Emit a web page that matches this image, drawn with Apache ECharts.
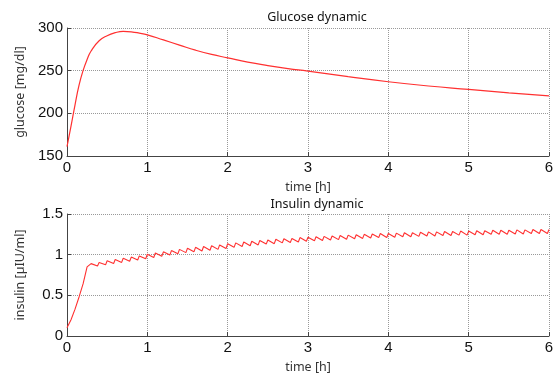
<!DOCTYPE html>
<html>
<head>
<meta charset="utf-8">
<script src="https://cdn.jsdelivr.net/npm/echarts@6/dist/echarts.min.js"></script>
<style>
  html, body { margin: 0; padding: 0; background: #fff; }
  #chart { width: 557px; height: 375px; }
</style>
</head>
<body>
<div id="chart"></div>
<script>
// glucose curve
const glucoseTime = [0, 0.05, 0.1, 0.15, 0.2, 0.25, 0.3, 0.4, 0.5, 0.6, 0.7, 0.8, 0.9, 1.0, 1.2, 1.4, 1.6, 1.8, 2.0, 2.25, 2.5, 2.75, 3.0, 3.5, 4.0, 4.5, 5.0, 5.5, 6.0];
const glucoseValue = [161, 185, 210, 233, 250, 263, 273, 285, 291, 294.5, 296, 295.5, 294, 292, 286, 280, 274, 269, 265, 260, 256, 252.5, 249.5, 243, 237, 232, 228, 224, 220.5];

// insulin: initial rise, then a sawtooth (one tooth every 0.1 h)
const insulinRiseTime = [0, 0.05, 0.1, 0.15, 0.2, 0.25];
const insulinRiseValue = [0.1, 0.2, 0.33, 0.48, 0.64, 0.85];
const toothStart = 0.3;
const toothPeriod = 0.1;
const toothRise = 0.02;
const insulinPeaks = [
  0.89, 0.905, 0.925, 0.94, 0.955, 0.97, 0.985, 1.005, 1.02, 1.035,
  1.05, 1.065, 1.08, 1.09, 1.10, 1.11, 1.12, 1.135, 1.145, 1.155,
  1.165, 1.175, 1.18, 1.19, 1.195, 1.20, 1.21, 1.215, 1.22, 1.225,
  1.23, 1.235, 1.24, 1.245, 1.25, 1.255, 1.26, 1.26, 1.265, 1.27,
  1.27, 1.275, 1.28, 1.28, 1.285, 1.285, 1.29, 1.29, 1.295, 1.295,
  1.30, 1.30, 1.30, 1.305, 1.305, 1.31, 1.31, 1.31
];
// minimum reached just before each peak (from the 2nd tooth on)
const insulinTroughs = [
  0.86, 0.875, 0.89, 0.905, 0.92, 0.935, 0.95, 0.965, 0.98, 0.995,
  1.01, 1.025, 1.035, 1.045, 1.055, 1.065, 1.075, 1.09, 1.10, 1.11,
  1.12, 1.13, 1.135, 1.145, 1.15, 1.155, 1.165, 1.17, 1.175, 1.18,
  1.185, 1.19, 1.195, 1.20, 1.205, 1.21, 1.21, 1.215, 1.22, 1.22,
  1.225, 1.23, 1.23, 1.235, 1.235, 1.24, 1.24, 1.245, 1.245, 1.25,
  1.25, 1.25, 1.255, 1.255, 1.26, 1.26, 1.26
];

const glucoseData = glucoseTime.map((t, i) => [t, glucoseValue[i]]);

const insulinData = insulinRiseTime.map((t, i) => [t, insulinRiseValue[i]]);
insulinPeaks.forEach((p, k) => {
  const tp = +(toothStart + k * toothPeriod).toFixed(3);
  if (k > 0) insulinData.push([tp - toothRise, insulinTroughs[k - 1]]);
  insulinData.push([tp, p]);
});

const chart = echarts.init(document.getElementById('chart'), null, { renderer: 'canvas' });

const tickFont = { fontFamily: 'Liberation Sans', fontSize: 15, color: '#111' };
const nameFont = { fontFamily: 'Noto Sans', fontSize: 12.5, color: '#333' };
const gridLine = { show: true, lineStyle: { color: '#999', type: 'dotted', width: 1 } };
const lineColor = '#ff3030';

const xAxisBase = (gridIndex) => ({
  type: 'value',
  gridIndex,
  min: 0,
  max: 6,
  interval: 1,
  name: 'time [h]',
  nameLocation: 'middle',
  nameGap: 25,
  nameTextStyle: nameFont,
  axisLine: { lineStyle: { color: '#444', width: 1 } },
  axisTick: { inside: true, length: 4, lineStyle: { color: '#444' } },
  axisLabel: Object.assign({ margin: 4 }, tickFont),
  splitLine: gridLine,
});

const yAxisBase = (gridIndex, min, max, interval, name) => ({
  type: 'value',
  gridIndex,
  min,
  max,
  interval,
  name,
  nameLocation: 'middle',
  nameGap: 40,
  nameTextStyle: nameFont,
  axisLine: { show: true, lineStyle: { color: '#444' } },
  axisTick: { show: true, inside: true, length: 4, lineStyle: { color: '#444' } },
  axisLabel: Object.assign({ margin: 4 }, tickFont),
  splitLine: gridLine,
});

const titleStyle = { fontFamily: 'Noto Sans', fontSize: 12.5, fontWeight: 'normal', color: '#111' };

const option = {
  animation: false,
  backgroundColor: '#fff',
  title: [
    { text: 'Glucose dynamic', left: 312, top: 6, textAlign: 'center', textStyle: titleStyle },
    { text: 'Insulin dynamic', left: 312, top: 193, textAlign: 'center', textStyle: titleStyle },
  ],
  grid: [
    { left: 67, right: 8, top: 28, height: 128 },
    { left: 67, right: 8, top: 214, height: 129 },
  ],
  xAxis: [xAxisBase(0), xAxisBase(1)],
  yAxis: [
    yAxisBase(0, 150, 300, 50, 'glucose [mg/dl]'),
    yAxisBase(1, 0, 1.5, 0.5, 'insulin [µIU/ml]'),
  ],
  series: [
    {
      name: 'glucose',
      type: 'line',
      xAxisIndex: 0,
      yAxisIndex: 0,
      data: glucoseData,
      smooth: 0.5,
      showSymbol: false,
      lineStyle: { color: lineColor, width: 1.2 },
    },
    {
      name: 'insulin',
      type: 'line',
      xAxisIndex: 1,
      yAxisIndex: 1,
      data: insulinData,
      showSymbol: false,
      lineStyle: { color: lineColor, width: 1.1 },
    },
  ],
};

chart.setOption(option);
</script>
</body>
</html>
